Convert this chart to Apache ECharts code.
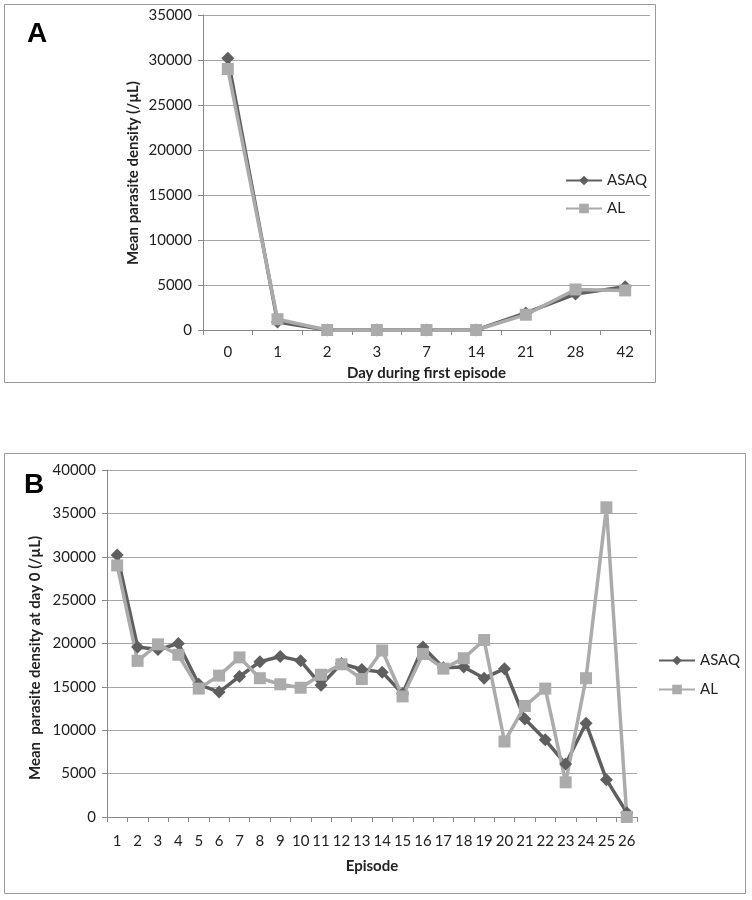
<!DOCTYPE html>
<html>
<head>
<meta charset="utf-8">
<script src="https://cdn.jsdelivr.net/npm/echarts@6/dist/echarts.min.js"></script>
<style>
html,body{margin:0;padding:0;background:#fff;}
#c{width:752px;height:900px;}
</style>
</head>
<body>
<div id="c"></div>
<script>
// Panel A data
var daysA = ['0','1','2','3','7','14','21','28','42'];
var asaqA = [30200, 900, 0, 0, 0, 0, 1900, 4000, 4800];
var alA   = [29000, 1200, 0, 0, 0, 0, 1700, 4500, 4400];

// Panel B data
var episodesB = ['1','2','3','4','5','6','7','8','9','10','11','12','13','14','15','16','17','18','19','20','21','22','23','24','25','26'];
var asaqB = [30200,19600,19300,20000,15300,14400,16200,17900,18500,18000,15200,17700,17000,16700,14200,19600,17200,17300,16000,17100,11300,8900,6100,10800,4300,500];
var alB   = [29000,18000,19900,18700,14800,16300,18400,16000,15300,14900,16400,17600,15900,19200,13900,18800,17100,18300,20400,8700,12800,14800,4000,16000,35700,0];

var FONT = "Lato,'Open Sans',sans-serif";
var DARK = '#5f5f5f';
var LIGHT = '#ababab';
var GRID = '#a6a6a6';

function yAxis(gi, max, interval) {
  return {
    type: 'value', gridIndex: gi, min: 0, max: max, interval: interval,
    axisLine: {show: true, lineStyle: {color: '#888', width: 1}},
    axisTick: {show: true, length: 5, lineStyle: {color: '#888'}},
    axisLabel: {color: '#222', fontSize: 15, fontFamily: FONT, margin: 11,
      formatter: function (v) { return String(v); }},
    splitLine: {lineStyle: {color: GRID, width: 1}}
  };
}
function xAxis(gi, data, name, gap, margin) {
  return {
    type: 'category', gridIndex: gi, data: data, boundaryGap: true,
    name: name, nameLocation: 'middle', nameGap: gap,
    nameTextStyle: {fontWeight: 'bold', fontSize: 15, color: '#222', fontFamily: FONT},
    axisLine: {show: true, lineStyle: {color: '#888', width: 1}},
    axisTick: {show: true, alignWithLabel: false, length: 5, lineStyle: {color: '#888'}},
    axisLabel: {color: '#222', fontSize: 15, fontFamily: FONT, margin: margin, interval: 0},
    splitLine: {show: false}
  };
}
function ser(name, data, gi, color, symbol, size) {
  return {
    name: name, type: 'line', xAxisIndex: gi, yAxisIndex: gi, data: data,
    symbol: symbol, symbolSize: size,
    lineStyle: {color: color, width: 3.5},
    itemStyle: {color: color},
    emphasis: {disabled: true}, animation: false
  };
}

var chart = echarts.init(document.getElementById('c'));
chart.setOption({
  animation: false,
  graphic: [
    {type: 'rect', shape: {x: 4.5, y: 4.5, width: 651, height: 378}, style: {fill: 'none', stroke: '#999', lineWidth: 1}},
    {type: 'rect', shape: {x: 4.5, y: 453.5, width: 741, height: 440}, style: {fill: 'none', stroke: '#999', lineWidth: 1}},
    {type: 'text', left: 27, top: 20, style: {text: 'A', font: 'bold 28px ' + "'Liberation Sans','Arial',sans-serif", fill: '#000'}},
    {type: 'text', left: 24, top: 471, style: {text: 'B', font: 'bold 28px ' + "'Liberation Sans','Arial',sans-serif", fill: '#000'}},
    {type: 'text', x: 133, y: 173, rotation: Math.PI / 2,
      style: {text: 'Mean parasite density (/µL)', font: 'bold 15px ' + FONT, fill: '#222', textAlign: 'center', textVerticalAlign: 'middle'}},
    {type: 'text', x: 35, y: 658, rotation: Math.PI / 2,
      style: {text: 'Mean  parasite density at day 0 (/µL)', font: 'bold 15px ' + FONT, fill: '#222', textAlign: 'center', textVerticalAlign: 'middle'}}
  ],
  grid: [
    {left: 203, top: 15, width: 447, height: 315},
    {left: 107, top: 470, width: 530, height: 347}
  ],
  xAxis: [xAxis(0, daysA, 'Day during first episode', 36, 15), xAxis(1, episodesB, 'Episode', 42, 17)],
  yAxis: [yAxis(0, 35000, 5000), yAxis(1, 40000, 5000)],
  legend: [
    {orient: 'vertical', left: 560, top: 168, itemWidth: 36, itemHeight: 12, itemGap: 13,
      data: ['ASAQ', 'AL'], textStyle: {fontSize: 15, color: '#222', fontFamily: FONT}, selectedMode: false},
    {orient: 'vertical', left: 653, top: 648, itemWidth: 36, itemHeight: 12, itemGap: 14,
      data: ['ASAQ', 'AL'], textStyle: {fontSize: 15, color: '#222', fontFamily: FONT}, selectedMode: false}
  ],
  series: [
    ser('ASAQ', asaqA, 0, DARK, 'diamond', 13),
    ser('AL', alA, 0, LIGHT, 'rect', 12),
    ser('ASAQ', asaqB, 1, DARK, 'diamond', 13),
    ser('AL', alB, 1, LIGHT, 'rect', 12)
  ]
});
</script>
</body>
</html>
